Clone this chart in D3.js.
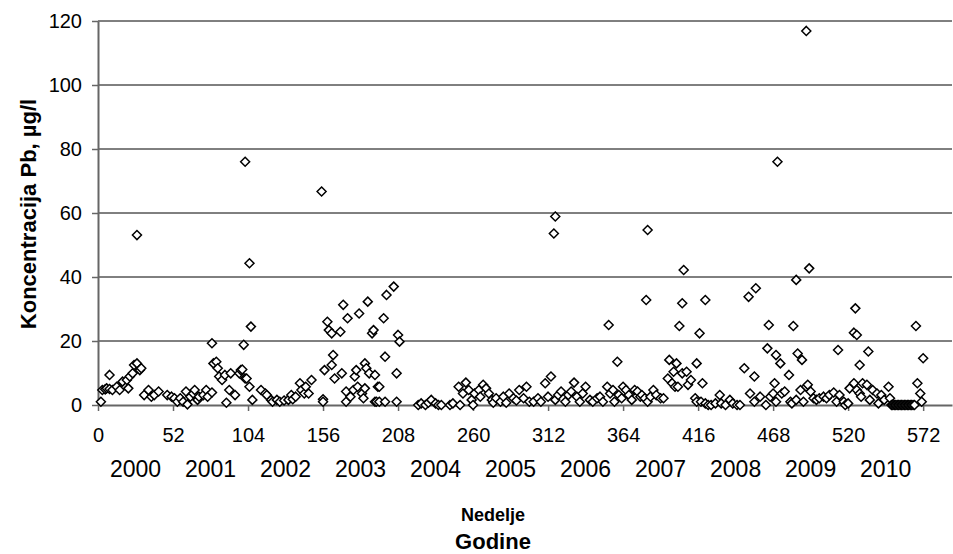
<!DOCTYPE html>
<html>
<head>
<meta charset="utf-8">
<script src="https://cdn.jsdelivr.net/npm/d3@7"></script>
<style>
  body { margin: 0; background: #fff; }
  svg text { font-family: Arial, "Liberation Sans", sans-serif; fill: #000; }
</style>
</head>
<body>
<svg id="chart" width="953" height="554"></svg>
<script>
// tick labels
var xTicks = [0, 52, 104, 156, 208, 260, 312, 364, 416, 468, 520, 572];
var yTicks = [0, 20, 40, 60, 80, 100, 120];
var years = ["2000", "2001", "2002", "2003", "2004", "2005", "2006", "2007", "2008", "2009", "2010"];

// weekly Pb readings, [week, µg/l]
var pb2000 = [[2,1.0],[3,4.7],[5,4.9],[6,5.2],[8,9.4],[8,5.0],[10,4.7],[13,5.7],[15,4.7],[17,7.3],[20,7.8],[21,5.2],[22,8.9],[24,9.9],[25,12.5],[27,13.0],[27,53.1],[29,10.9],[30,11.5],[32,3.1],[35,4.7],[37,2.6],[39,3.1],[42,4.2],[48,3.1],[51,2.6]];
var pb2001 = [[53,2.1],[55,1.0],[57,2.1],[59,1.0],[61,4.2],[62,0.2],[64,2.6],[66,3.6],[67,4.7],[69,1.6],[70,2.6],[73,3.1],[75,4.7],[76,2.6],[79,3.9],[79,19.3],[80,13.0],[82,13.5],[83,11.5],[84,8.9],[86,7.8],[88,9.4],[89,0.7],[91,4.7],[92,9.9],[95,3.1],[98,9.9],[99,10.9],[100,11.1],[101,18.8],[102,8.3],[102,76.0],[103,8.3]];
var pb2002 = [[105,5.7],[105,44.3],[106,24.5],[107,1.6],[113,4.7],[116,3.6],[117,3.1],[120,1.6],[121,1.0],[124,1.6],[126,1.0],[129,1.4],[132,1.6],[134,3.1],[135,1.8],[137,2.6],[140,6.8],[141,4.7],[143,3.6],[144,5.7],[146,3.6],[148,7.8],[155,66.7]];
var pb2003 = [[156,1.8],[156,1.0],[157,10.9],[159,26.0],[160,23.4],[162,12.5],[162,22.4],[163,15.6],[164,8.3],[168,22.9],[169,9.9],[170,31.3],[172,1.0],[172,4.2],[173,27.1],[175,2.6],[177,4.7],[178,8.9],[179,10.9],[180,5.7],[181,28.6],[183,3.6],[184,2.1],[185,5.2],[185,13.0],[186,11.5],[187,32.3],[188,9.9],[190,22.4],[191,23.4],[192,9.4],[192,1.0],[193,1.0],[194,5.7],[195,5.7],[195,1.0],[198,27.1],[199,15.1],[199,1.0],[200,34.4],[205,37.0],[207,9.9],[207,1.0]];
var pb2004 = [[208,21.9],[209,19.8],[222,0],[224,0.5],[227,0],[229,0.7],[231,1.6],[234,0.5],[236,0],[238,0],[244,0],[246,0.5],[250,5.7],[251,0],[253,3.6],[255,7.0],[257,4.7],[259,1.6]];
var pb2005 = [[260,0],[261,3.6],[264,4.7],[265,2.6],[267,6.3],[269,5.2],[271,3.6],[273,1.6],[274,0.7],[276,2.1],[279,1.0],[281,2.6],[283,0.7],[285,3.6],[288,2.1],[290,1.4],[292,4.7],[295,2.1],[297,5.7],[299,1.0],[302,1.0],[305,2.1],[307,1.0],[310,6.8]];
var pb2006 = [[312,2.6],[314,8.9],[316,53.6],[317,58.9],[317,1.6],[319,3.1],[321,4.2],[324,1.0],[326,3.1],[328,4.2],[330,7.0],[332,2.6],[334,1.0],[336,3.6],[338,5.7],[341,1.6],[343,1.0],[346,2.1],[348,2.6],[350,1.0],[353,5.7],[354,25.0],[355,3.6],[357,4.7],[358,1.0],[360,13.5],[361,3.1],[363,2.1]];
var pb2007 = [[364,5.7],[366,4.7],[368,3.1],[370,1.6],[372,4.7],[374,4.2],[376,2.6],[377,3.1],[379,2.1],[380,32.8],[381,54.7],[381,1.0],[383,2.6],[385,4.7],[387,3.1],[390,2.1],[392,2.1],[395,8.3],[396,14.1],[398,6.8],[399,10.4],[400,5.7],[401,13.0],[402,5.7],[403,24.7],[405,31.8],[405,9.9],[406,42.2],[408,10.4],[409,6.3],[411,7.8],[414,2.1],[415,1.0],[415,13.0]];
var pb2008 = [[417,22.4],[418,1.0],[419,6.8],[421,0.5],[421,32.8],[423,0],[425,0],[428,0.5],[431,3.1],[432,0.5],[435,0],[438,1.6],[440,0.5],[443,0],[445,0],[448,11.5],[451,33.8],[452,3.6],[455,8.9],[455,1.0],[456,36.5],[459,2.6],[463,0],[464,17.7],[465,25.0],[466,2.6]];
var pb2009 = [[468,3.6],[469,6.8],[470,15.6],[470,1.0],[471,76.0],[473,13.0],[474,3.6],[476,4.2],[479,9.4],[480,1.0],[481,0.5],[482,24.7],[484,39.1],[484,1.6],[485,16.1],[487,4.7],[488,14.1],[489,1.0],[491,5.7],[491,116.9],[492,6.3],[493,42.7],[494,4.2],[496,2.1],[498,1.6],[500,2.1],[503,2.6],[505,2.1],[507,3.1],[510,3.9],[512,1.0],[513,17.2],[514,3.1],[517,1.0],[518,0]];
var pb2010 = [[520,0.5],[521,5.2],[524,6.8],[524,22.6],[525,30.2],[526,21.9],[526,4.7],[528,12.5],[528,3.6],[529,2.6],[530,6.8],[533,6.3],[534,16.7],[535,1.6],[537,4.7],[540,3.6],[541,0.5],[543,3.1],[545,1.6],[548,5.7],[549,2.1],
  [550,0],[551,0],[552,0],[553,0],[554,0],[555,0],[556,0],[557,0],[558,0],[559,0],[560,0],[561,0],[562,0],[563,0],[564,0],[565,0],[566,0],
  [567,24.7],[568,6.8],[570,3.6],[571,1.0],[572,14.6]];

var allPoints = [].concat(pb2000, pb2001, pb2002, pb2003, pb2004, pb2005, pb2006, pb2007, pb2008, pb2009, pb2010);

var svg = d3.select("#chart");
var plotLeft = 98, plotRight = 952, plotTop = 21, plotBottom = 405;

var x = d3.scaleLinear().domain([0, 592]).range([plotLeft, plotRight]);
var y = d3.scaleLinear().domain([0, 120]).range([plotBottom, plotTop]);

// horizontal gridlines
svg.append("g")
    .selectAll("line")
    .data(yTicks.filter(function (d) { return d > 0; }))
    .enter().append("line")
    .attr("x1", plotLeft).attr("x2", plotRight)
    .attr("y1", function (d) { return y(d); })
    .attr("y2", function (d) { return y(d); })
    .style("stroke", "#000")
    .style("stroke-width", 1);

// y axis
var yAxis = svg.append("g")
    .attr("transform", "translate(" + plotLeft + ",0)")
    .call(d3.axisLeft(y).tickValues(yTicks).tickSize(6).tickPadding(10).tickSizeOuter(0));
yAxis.select(".domain").style("stroke", "#666").style("stroke-width", 2);
yAxis.selectAll(".tick line").style("stroke", "#666").style("stroke-width", 1.5);
yAxis.selectAll("text").style("font-size", "20px").style("font-family", "Arial, 'Liberation Sans', sans-serif");

// x axis
var xAxis = svg.append("g")
    .attr("transform", "translate(0," + plotBottom + ")")
    .call(d3.axisBottom(x).tickValues(xTicks).tickSize(6).tickPadding(17).tickSizeOuter(0));
xAxis.select(".domain").style("stroke", "#666").style("stroke-width", 2);
xAxis.selectAll(".tick line").style("stroke", "#666").style("stroke-width", 1.5);
xAxis.selectAll("text").style("font-size", "20px").style("font-family", "Arial, 'Liberation Sans', sans-serif");

// year labels, centred on each year's middle week
svg.append("g")
    .selectAll("text")
    .data(years)
    .enter().append("text")
    .attr("x", function (d, i) { return x(i * 52 + 26); })
    .attr("y", 477)
    .attr("text-anchor", "middle")
    .style("font-size", "23px")
    .text(function (d) { return d; });

// markers
var diamond = "M0,-4.5L4.5,0L0,4.5L-4.5,0Z";
svg.append("g")
    .selectAll("path")
    .data(allPoints)
    .enter().append("path")
    .attr("d", diamond)
    .attr("transform", function (d) { return "translate(" + x(d[0]) + "," + y(d[1]) + ")"; })
    .style("fill", "#fff")
    .style("stroke", "#000")
    .style("stroke-width", 1.5);

// titles
svg.append("text")
    .attr("transform", "translate(36,214) rotate(-90)")
    .attr("text-anchor", "middle")
    .style("font-size", "22px")
    .style("font-weight", "bold")
    .text("Koncentracija Pb, µg/l");

svg.append("text")
    .attr("x", 493).attr("y", 521)
    .attr("text-anchor", "middle")
    .style("font-size", "18px")
    .style("font-weight", "bold")
    .text("Nedelje");

svg.append("text")
    .attr("x", 493).attr("y", 549)
    .attr("text-anchor", "middle")
    .style("font-size", "22px")
    .style("font-weight", "bold")
    .text("Godine");
</script>
</body>
</html>
